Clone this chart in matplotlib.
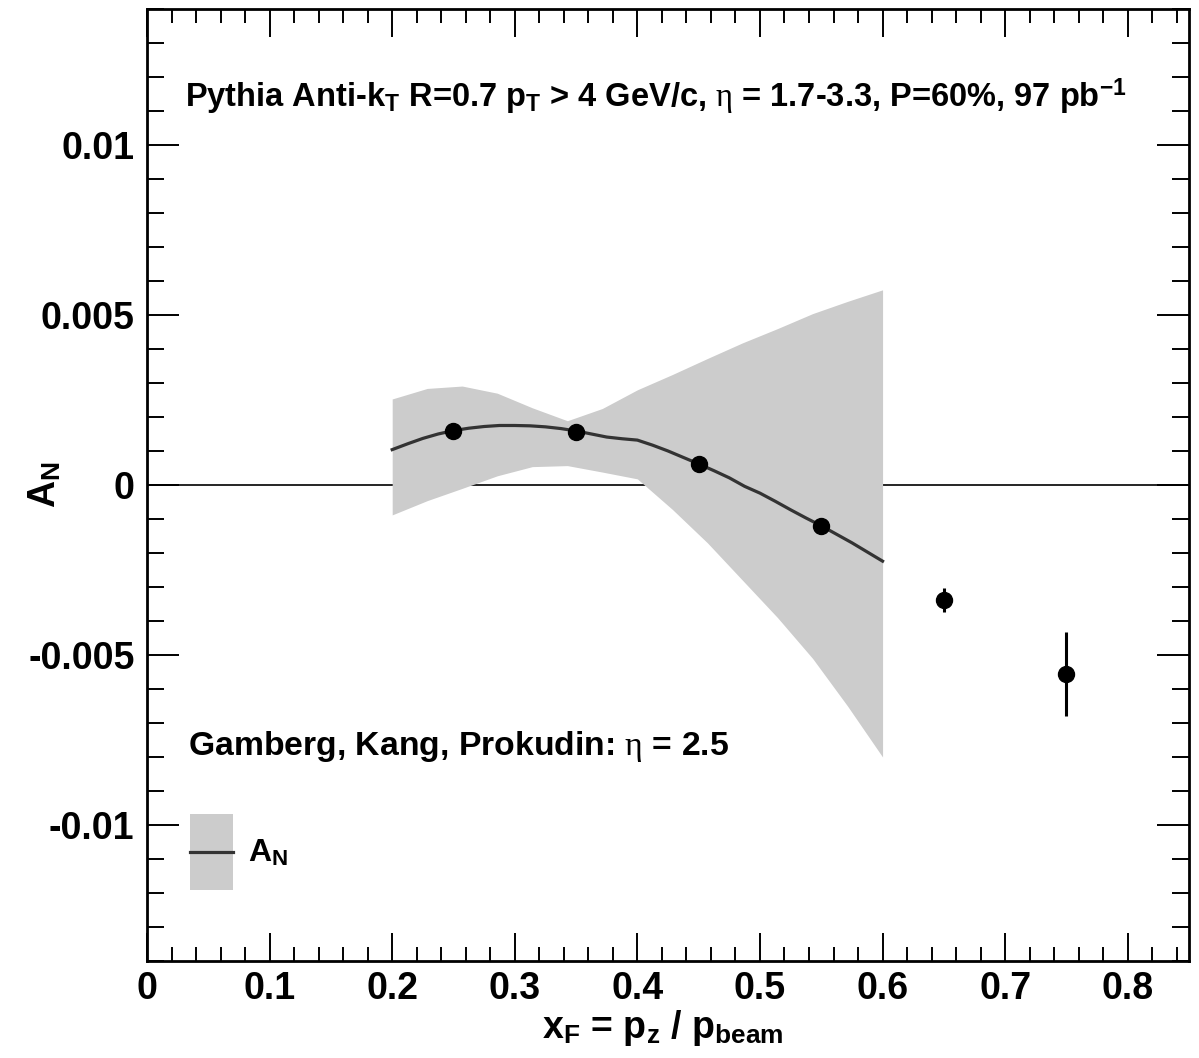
import matplotlib
matplotlib.use("Agg")
import matplotlib.pyplot as plt
from matplotlib.patches import Patch, Rectangle
from matplotlib.lines import Line2D
from matplotlib.legend_handler import HandlerBase
from matplotlib.ticker import MultipleLocator
import numpy as np

plt.rcParams['font.family'] = ['Liberation Sans', 'DejaVu Sans']
plt.rcParams['font.weight'] = 'bold'
plt.rcParams['axes.labelweight'] = 'bold'
plt.rcParams['mathtext.fontset'] = 'custom'
plt.rcParams['mathtext.rm'] = 'Liberation Sans:bold'
plt.rcParams['mathtext.it'] = 'Liberation Serif:weight=normal'

# pseudo-data points (Pythia, anti-kT jets)
xf_pts = [0.25, 0.35, 0.45, 0.55, 0.65, 0.75]
an_pts = [0.00159, 0.00157, 0.00062, -0.00120, -0.00338, -0.00556]
an_err = [0.00005, 0.00007, 0.00010, 0.00017, 0.00035, 0.00124]

# Gamberg, Kang, Prokudin prediction (central curve)
xf_curve = [0.2000, 0.2125, 0.2250, 0.2375, 0.2500, 0.2625, 0.2750, 0.2875,
            0.3000, 0.3125, 0.3250, 0.3375, 0.3500, 0.3625, 0.3750, 0.3875,
            0.4000, 0.4125, 0.4250, 0.4375, 0.4500, 0.4625, 0.4750, 0.4875,
            0.5000, 0.5125, 0.5250, 0.5375, 0.5500, 0.5625, 0.5750, 0.5875,
            0.6000]
an_curve = [0.00104, 0.00121, 0.00137, 0.00150, 0.00160, 0.00167, 0.00172,
            0.00175, 0.00175, 0.00174, 0.00171, 0.00166, 0.00159, 0.00150,
            0.00141, 0.00136, 0.00132, 0.00117, 0.00100, 0.00081, 0.00062,
            0.00042, 0.00021, -0.00004, -0.00024, -0.00048, -0.00073,
            -0.00097, -0.00120, -0.00145, -0.00170, -0.00197, -0.00224]

# uncertainty band
xf_band = [0.2000, 0.2286, 0.2571, 0.2857, 0.3143, 0.3429, 0.3714, 0.4000,
           0.4286, 0.4571, 0.4857, 0.5143, 0.5429, 0.5714, 0.6000]
band_hi = [0.00253, 0.00284, 0.00291, 0.00270, 0.00227, 0.00189, 0.00225,
           0.00280, 0.00325, 0.00372, 0.00418, 0.00460, 0.00504, 0.00540, 0.00574]
band_lo = [-0.00088, -0.00046, -0.00010, 0.00027, 0.00054, 0.00057, 0.00038,
           0.00018, -0.00072, -0.00170, -0.00280, -0.00390, -0.00510, -0.00650,
           -0.00800]

BAND_C = '#cccccc'
LINE_C = '#333333'


class BandWithLine(HandlerBase):
    # grey box with the central line through its middle
    def create_artists(self, legend, orig_handle, xdescent, ydescent,
                       width, height, fontsize, trans):
        box = Rectangle((-xdescent, -ydescent), width, height, fc=BAND_C,
                        ec='none', transform=trans)
        ym = -ydescent + height / 2
        ln = Line2D([-xdescent, -xdescent + width], [ym, ym], color=LINE_C,
                    lw=2.3, transform=trans)
        return [box, ln]


fig = plt.figure(figsize=(11.99, 10.58), dpi=100)
ax = fig.add_axes([0.1226, 0.0917, 0.8691, 0.8998])

ax.axhline(0, color='black', lw=1.2, zorder=1)
ax.fill_between(xf_band, band_lo, band_hi, color=BAND_C, lw=0, zorder=2)
ax.plot(xf_curve, an_curve, color=LINE_C, lw=2.3, zorder=3)
ax.errorbar(xf_pts, an_pts, yerr=an_err, fmt='o', color='black', ms=11.5,
            elinewidth=2.2, capsize=0, zorder=4)

ax.set_xlim(0, 0.85)
ax.set_ylim(-0.014, 0.014)
ax.xaxis.set_minor_locator(MultipleLocator(0.02))
ax.yaxis.set_minor_locator(MultipleLocator(0.001))
xt = np.arange(0, 0.81, 0.1)
ax.set_xticks(xt)
ax.set_xticklabels(['0'] + ['%.1f' % v for v in xt[1:]])
yt = [-0.01, -0.005, 0, 0.005, 0.01]
ax.set_yticks(yt)
ax.set_yticklabels(['-0.01', '-0.005', '0', '0.005', '0.01'])

for s in ax.spines.values():
    s.set_linewidth(2)
ax.tick_params(which='both', direction='in', top=True, right=True,
               labelsize=27, width=1.4)
ax.tick_params(axis='x', which='major', length=20, pad=7)
ax.tick_params(axis='x', which='minor', length=10)
ax.tick_params(axis='y', which='major', length=23, pad=9)
ax.tick_params(axis='y', which='minor', length=12)

ax.set_xlabel(r'x$_\mathregular{F}$ = p$_\mathregular{z}$ / p$_\mathregular{beam}$',
              fontsize=27)
ax.xaxis.set_label_coords(0.495, -0.049)
ax.set_ylabel(r'A$_\mathregular{N}$', fontsize=27)
ax.yaxis.set_label_coords(-0.08, 0.5)

ax.text(0.0310, 0.0111,
        r'Pythia Anti-k$_\mathregular{T}$ R=0.7 p$_\mathregular{T}$ > 4 GeV/c, '
        r'$\mathit{\eta}$ = 1.7-3.3, P=60%, 97 pb$^\mathregular{-1}$',
        fontsize=23.5, va='baseline', ha='left')
ax.text(0.0334, -0.00794, r'Gamberg, Kang, Prokudin: $\mathit{\eta}$ = 2.5',
        fontsize=24.3, va='baseline', ha='left')

ax.legend(handles=[Patch()], labels=[r'A$_\mathregular{N}$'],
          handler_map={Patch: BandWithLine()},
          loc='center left', bbox_to_anchor=(0.0413, 0.1145), frameon=False,
          fontsize=23, handlelength=1.35, handleheight=3.3, handletextpad=0.45,
          borderpad=0, borderaxespad=0)

fig.savefig('out.png', dpi=100)
